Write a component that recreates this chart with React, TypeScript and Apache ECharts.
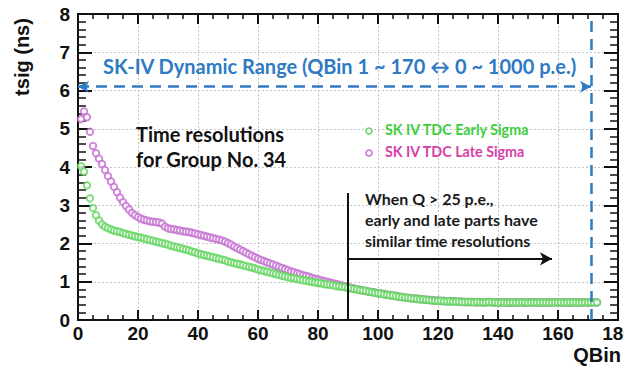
import React, { useEffect, useRef } from "react";
import * as echarts from "echarts";

// QBin index for every point (1..173)
const qbins: number[] = Array.from({ length: 173 }, (_, i) => i + 1);

// SK IV TDC Early Sigma (ns)
const earlySigma: number[] = [
  4.02, 3.88, 3.52, 3.18, 2.93, 2.74, 2.60, 2.50, 2.44, 2.40,
  2.37, 2.34, 2.32, 2.30, 2.27, 2.25, 2.23, 2.21, 2.19, 2.17,
  2.15, 2.13, 2.11, 2.09, 2.07, 2.05, 2.03, 2.01, 1.99, 1.97,
  1.94, 1.92, 1.90, 1.88, 1.86, 1.84, 1.82, 1.79, 1.77, 1.74,
  1.72, 1.70, 1.68, 1.66, 1.64, 1.62, 1.60, 1.58, 1.56, 1.53,
  1.51, 1.49, 1.47, 1.45, 1.43, 1.41, 1.39, 1.37, 1.35, 1.32,
  1.30, 1.28, 1.26, 1.24, 1.22, 1.20, 1.18, 1.16, 1.14, 1.12,
  1.10, 1.09, 1.07, 1.06, 1.04, 1.03, 1.01, 1.00, 0.98, 0.97,
  0.96, 0.94, 0.93, 0.92, 0.91, 0.89, 0.88, 0.87, 0.86, 0.84,
  0.83, 0.81, 0.80, 0.78, 0.77, 0.76, 0.74, 0.73, 0.71, 0.70,
  0.69, 0.67, 0.66, 0.65, 0.64, 0.62, 0.61, 0.60, 0.59, 0.58,
  0.57, 0.56, 0.55, 0.54, 0.54, 0.53, 0.52, 0.51, 0.51, 0.50,
  0.50, 0.49, 0.49, 0.49, 0.48, 0.48, 0.48, 0.47, 0.47, 0.47,
  0.47, 0.46, 0.47, 0.46, 0.46, 0.46, 0.47, 0.46, 0.46, 0.45,
  0.46, 0.46, 0.45, 0.46, 0.46, 0.45, 0.46, 0.46, 0.46, 0.45,
  0.46, 0.46, 0.45, 0.46, 0.46, 0.46, 0.45, 0.46, 0.46, 0.46,
  0.46, 0.45, 0.46, 0.46, 0.46, 0.46, 0.45, 0.46, 0.46, 0.46,
  0.46, 0.46, 0.46,
];

// SK IV TDC Late Sigma (ns)
const lateSigma: number[] = [
  5.25, 5.45, 5.30, 4.92, 4.55, 4.36, 4.22, 4.08, 3.92, 3.76,
  3.62, 3.48, 3.34, 3.20, 3.08, 2.98, 2.89, 2.80, 2.74, 2.69,
  2.65, 2.62, 2.60, 2.58, 2.57, 2.56, 2.55, 2.52, 2.44, 2.40,
  2.38, 2.37, 2.35, 2.34, 2.32, 2.31, 2.30, 2.28, 2.26, 2.24,
  2.22, 2.20, 2.18, 2.16, 2.14, 2.12, 2.10, 2.08, 2.05, 2.01,
  1.97, 1.92, 1.88, 1.84, 1.80, 1.76, 1.72, 1.68, 1.64, 1.60,
  1.57, 1.54, 1.51, 1.48, 1.45, 1.42, 1.39, 1.36, 1.33, 1.30,
  1.27, 1.25, 1.22, 1.20, 1.17, 1.15, 1.13, 1.10, 1.08, 1.06,
  1.04, 1.02, 1.00, 0.98, 0.96, 0.94, 0.92, 0.90, 0.88, 0.86,
  0.84, 0.82, 0.80, 0.79, 0.77, 0.76, 0.74, 0.73, 0.72, 0.70,
  0.69, 0.68, 0.66, 0.65, 0.64, 0.63, 0.61, 0.60, 0.59, 0.58,
  0.57, 0.56, 0.56, 0.55, 0.54, 0.53, 0.53, 0.52, 0.51, 0.51,
  0.50, 0.50, 0.49, 0.49, 0.49, 0.48, 0.48, 0.48, 0.47, 0.47,
  0.47, 0.47, 0.46, 0.47, 0.46, 0.46, 0.47, 0.46, 0.46, 0.46,
  0.46, 0.46, 0.46, 0.45, 0.46, 0.46, 0.46, 0.46, 0.45, 0.46,
  0.46, 0.46, 0.46, 0.46, 0.45, 0.46, 0.46, 0.46, 0.46, 0.46,
  0.46, 0.46, 0.46, 0.45, 0.46, 0.46, 0.46, 0.46, 0.46, 0.45,
  0.46, 0.46, 0.46,
];

// Axis ranges
const xRange = { min: 0, max: 180, interval: 20 };
const yRange = { min: 0, max: 8, interval: 1 };

// Annotation geometry in data units
const rangeArrowY = 6.1;
const rangeEndQ = 171;
const thresholdQ = 90;
const thresholdTop = 3.32;
const arrowY = 1.6;
const arrowEndQ = 158;

const legendNames = ["SK IV TDC Early Sigma", "SK IV TDC Late Sigma"];
const rangeText = "SK-IV Dynamic Range (QBin 1 ~ 170 \u2194 0 ~ 1000 p.e.)";
const groupText = ["Time resolutions", "for Group No. 34"];
const noteText = ["When Q > 25 p.e.,", "early and late parts have", "similar time resolutions"];

const GREEN = "#62d45e";
const MAGENTA = "#c36fd0";
const BLUE = "#2e7bc4";
const TICK_FONT = "'Liberation Sans', Arial, sans-serif";
const NOTE_FONT = "Lato, 'Open Sans', sans-serif";

export default function App() {
  const ref = useRef<HTMLDivElement>(null);

  useEffect(() => {
    if (!ref.current) return;
    const chart = echarts.init(ref.current, undefined, { renderer: "svg" });

    const axisLabelStyle = {
      fontFamily: TICK_FONT,
      fontWeight: "bold" as const,
      fontSize: 19,
      color: "#111",
    };

    const early = qbins.map((q, i) => [q, earlySigma[i]]);
    const late = qbins.map((q, i) => [q, lateSigma[i]]);

    const option: any = {
      animation: false,
      backgroundColor: "#fff",
      grid: {
        left: 78,
        right: 6,
        top: 14,
        bottom: 47,
        containLabel: false,
        outerBoundsMode: "none",
      },
      xAxis: [
        {
          type: "value",
          ...xRange,
          position: "bottom",
          axisLine: { show: true, onZero: false, lineStyle: { color: "#111", width: 2 } },
          axisTick: { show: true, inside: true, length: 10, lineStyle: { color: "#111", width: 2 } },
          minorTick: { show: true, splitNumber: 4, length: 5, lineStyle: { color: "#111", width: 1.5 } },
          axisLabel: { ...axisLabelStyle, margin: 4, showMaxLabel: true, showMinLabel: true, hideOverlap: false },
          splitLine: { show: true, lineStyle: { color: "#c4c4c4", type: [2, 2], width: 1 } },
        },
        {
          type: "value",
          ...xRange,
          position: "top",
          axisLine: { show: true, onZero: false, lineStyle: { color: "#111", width: 2 } },
          axisTick: { show: true, inside: true, length: 10, lineStyle: { color: "#111", width: 2 } },
          minorTick: { show: true, splitNumber: 4, length: 5, lineStyle: { color: "#111", width: 1.5 } },
          axisLabel: { show: false },
          splitLine: { show: false },
        },
      ],
      yAxis: [
        {
          type: "value",
          ...yRange,
          position: "left",
          axisLine: { show: true, onZero: false, lineStyle: { color: "#111", width: 2 } },
          axisTick: { show: true, inside: true, length: 14, lineStyle: { color: "#111", width: 2 } },
          minorTick: { show: true, splitNumber: 5, length: 8, lineStyle: { color: "#111", width: 1.5 } },
          axisLabel: { ...axisLabelStyle, margin: 8 },
          splitLine: { show: true, lineStyle: { color: "#c4c4c4", type: [2, 2], width: 1 } },
        },
        {
          type: "value",
          ...yRange,
          position: "right",
          axisLine: { show: true, onZero: false, lineStyle: { color: "#111", width: 2 } },
          axisTick: { show: true, inside: true, length: 14, lineStyle: { color: "#111", width: 2 } },
          minorTick: { show: true, splitNumber: 5, length: 8, lineStyle: { color: "#111", width: 1.5 } },
          axisLabel: { show: false },
          splitLine: { show: false },
        },
      ],
      series: [
        {
          name: legendNames[1],
          type: "scatter",
          data: late,
          symbol: "emptyCircle",
          symbolSize: 6.5,
          itemStyle: { color: MAGENTA, borderColor: MAGENTA, borderWidth: 1.2 },
          silent: true,
          z: 2,
        },
        {
          name: legendNames[0],
          type: "scatter",
          data: early,
          symbol: "emptyCircle",
          symbolSize: 6.5,
          itemStyle: { color: GREEN, borderColor: GREEN, borderWidth: 1.2 },
          silent: true,
          z: 3,
        },
        {
          name: "range",
          type: "scatter",
          data: [],
          silent: true,
          z: 5,
          markLine: {
            silent: true,
            animation: false,
            symbol: ["arrow", "arrow"],
            symbolSize: [9, 11],
            label: { show: false },
            lineStyle: { color: BLUE, width: 2.5, type: [11, 7] },
            data: [
              [{ coord: [0, rangeArrowY] }, { coord: [rangeEndQ, rangeArrowY] }],
              [
                { coord: [rangeEndQ, yRange.min], symbol: "none" },
                { coord: [rangeEndQ, yRange.max], symbol: "none" },
              ],
            ],
          },
        },
        {
          name: "note",
          type: "scatter",
          data: [],
          silent: true,
          z: 5,
          markLine: {
            silent: true,
            animation: false,
            symbol: ["none", "arrow"],
            symbolSize: [10, 12],
            label: { show: false },
            lineStyle: { color: "#111", width: 2, type: "solid" },
            data: [
              [
                { coord: [thresholdQ, 0], symbol: "none" },
                { coord: [thresholdQ, thresholdTop], symbol: "none" },
              ],
              [{ coord: [thresholdQ, arrowY] }, { coord: [arrowEndQ, arrowY] }],
            ],
          },
        },
      ],
      graphic: [
        {
          type: "text",
          left: 103,
          top: 56,
          style: { text: rangeText, fill: BLUE, font: `bold 20px ${NOTE_FONT}` },
          z: 10,
        },
        {
          type: "text",
          left: 136,
          top: 124,
          style: { text: groupText[0], fill: "#111", font: `bold 20px ${NOTE_FONT}` },
          z: 10,
        },
        {
          type: "text",
          left: 136,
          top: 149,
          style: { text: groupText[1], fill: "#111", font: `bold 20px ${NOTE_FONT}` },
          z: 10,
        },
        {
          type: "circle",
          shape: { cx: 369, cy: 131, r: 3 },
          style: { fill: "none", stroke: GREEN, lineWidth: 1.5 },
          z: 10,
        },
        {
          type: "circle",
          shape: { cx: 369, cy: 153, r: 3 },
          style: { fill: "none", stroke: MAGENTA, lineWidth: 1.5 },
          z: 10,
        },
        {
          type: "text",
          left: 385,
          top: 122,
          style: { text: legendNames[0], fill: "#3ccf3c", font: `bold 14.3px ${NOTE_FONT}` },
          z: 10,
        },
        {
          type: "text",
          left: 385,
          top: 144,
          style: { text: legendNames[1], fill: "#d63fa6", font: `bold 14.3px ${NOTE_FONT}` },
          z: 10,
        },
        ...noteText.map((t, i) => ({
          type: "text",
          left: 365,
          top: 190 + i * 21,
          style: { text: t, fill: "#1a1a1a", font: `bold 16px ${NOTE_FONT}` },
          z: 10,
        })),
        {
          type: "text",
          x: 22,
          y: 57,
          rotation: Math.PI / 2,
          style: {
            text: "tsig (ns)",
            fill: "#111",
            font: `bold 20px ${TICK_FONT}`,
            align: "center",
            verticalAlign: "middle",
          },
          z: 10,
        },
        {
          type: "text",
          x: 621,
          y: 355,
          style: {
            text: "QBin",
            fill: "#111",
            font: `bold 20px ${TICK_FONT}`,
            align: "right",
            verticalAlign: "middle",
          },
          z: 10,
        },
      ],
    };

    chart.setOption(option);
    return () => chart.dispose();
  }, []);

  return (
    <div
      ref={ref}
      style={{ position: "fixed", left: 0, top: 0, width: 624, height: 367, background: "#fff" }}
    />
  );
}
